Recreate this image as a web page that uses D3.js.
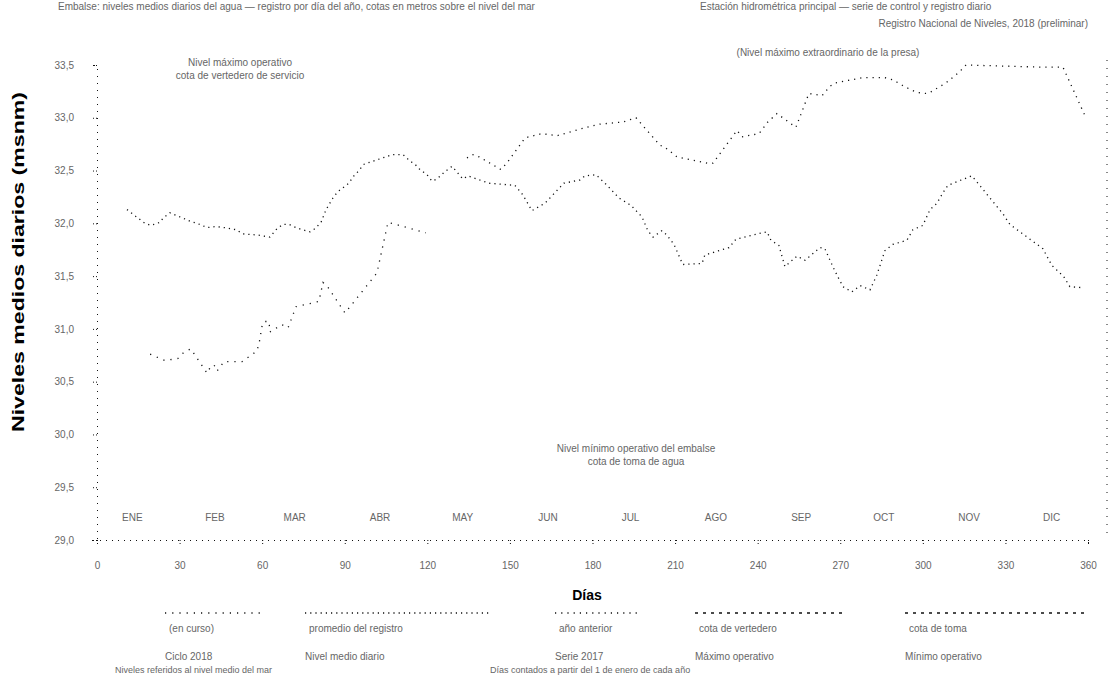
<!DOCTYPE html>
<html>
<head>
<meta charset="utf-8">
<script src="https://cdn.jsdelivr.net/npm/d3@7"></script>
<style>
  html, body { margin: 0; padding: 0; background: #fff; }
  svg text { font-family: "Liberation Sans", Arial, sans-serif; }
</style>
</head>
<body>
<svg id="chart" width="1110" height="677"></svg>
<script>
// Daily mean water level (msnm) by day of year
const serie2017 = [
  [134.4, 32.62], [136.6, 32.65], [138.8, 32.63], [146.7, 32.51], [148.9, 32.57],
  [155.5, 32.81], [161.6, 32.85], [167.1, 32.83], [176.5, 32.90], [179.4, 32.92],
  [182.7, 32.94], [191.1, 32.96], [195.8, 33.00], [204.5, 32.74], [206.3, 32.72],
  [210.7, 32.63], [221.9, 32.57], [223.8, 32.57], [232.5, 32.88], [234.3, 32.82],
  [240.5, 32.85], [243.7, 32.96], [247.0, 33.04], [253.9, 32.91], [258.6, 33.23],
  [263.4, 33.21], [266.3, 33.30], [268.1, 33.33], [278.2, 33.38], [281.5, 33.38],
  [286.2, 33.38], [289.1, 33.36], [292.4, 33.31], [295.3, 33.27], [297.9, 33.24],
  [301.5, 33.23], [302.6, 33.24], [308.4, 33.33], [313.1, 33.43], [315.7, 33.50],
  [342.5, 33.48], [350.9, 33.48], [358.9, 33.02]
];

const serieMedia = [
  [10.9, 32.13], [17.4, 32.00], [19.6, 31.98], [22.9, 32.01], [24.0, 32.05],
  [26.5, 32.10], [31.2, 32.05], [33.8, 32.02], [36.3, 32.00], [40.0, 31.96],
  [43.2, 31.97], [46.1, 31.96], [50.5, 31.94], [53.0, 31.90], [58.1, 31.89],
  [62.8, 31.87], [65.4, 31.95], [67.6, 31.99], [69.7, 31.99], [72.3, 31.96],
  [74.5, 31.94], [77.4, 31.92], [79.2, 31.95], [81.4, 32.01], [83.2, 32.13],
  [85.7, 32.24], [87.5, 32.30], [91.5, 32.38], [93.0, 32.44], [94.8, 32.49],
  [97.0, 32.56], [107.2, 32.65], [111.2, 32.65], [113.7, 32.59], [115.5, 32.56],
  [117.3, 32.51], [119.9, 32.46], [121.7, 32.40], [123.5, 32.42], [126.4, 32.49],
  [129.0, 32.54], [132.9, 32.42], [134.8, 32.45], [138.0, 32.42], [142.4, 32.38],
  [151.8, 32.36], [154.7, 32.27], [158.0, 32.12], [162.7, 32.19], [169.6, 32.38],
  [175.4, 32.41], [177.3, 32.45], [181.3, 32.46], [185.3, 32.36], [189.6, 32.24],
  [194.0, 32.17], [198.0, 32.06], [200.1, 31.93], [202.0, 31.87], [205.2, 31.93],
  [207.0, 31.89], [209.6, 31.80], [212.8, 31.61], [219.8, 31.62], [220.8, 31.70],
  [229.6, 31.77], [232.1, 31.85], [241.6, 31.91], [243.4, 31.92], [244.8, 31.84],
  [247.7, 31.79], [249.9, 31.59], [254.3, 31.69], [257.2, 31.65], [262.6, 31.77],
  [264.4, 31.76], [267.3, 31.59], [268.8, 31.51], [271.0, 31.40], [274.2, 31.35],
  [277.2, 31.41], [280.8, 31.37], [283.3, 31.51], [286.2, 31.74], [289.1, 31.80],
  [294.2, 31.84], [296.4, 31.94], [300.0, 31.98], [302.6, 32.13], [305.1, 32.19],
  [307.3, 32.29], [309.1, 32.36], [317.8, 32.45], [320.0, 32.38], [329.1, 32.09],
  [331.6, 31.99], [343.6, 31.76], [346.9, 31.60], [349.8, 31.53], [351.3, 31.49],
  [353.4, 31.40], [358.2, 31.39]
];

const serie2018 = [
  [19.3, 30.76], [24.7, 30.70], [29.4, 30.72], [31.6, 30.78], [34.1, 30.81],
  [40.0, 30.58], [41.0, 30.63], [42.5, 30.66], [43.6, 30.60], [46.1, 30.69],
  [52.7, 30.69], [58.1, 30.79], [59.0, 30.88], [59.9, 31.02], [60.7, 31.07],
  [62.5, 31.07], [62.8, 30.97], [67.2, 31.04], [69.4, 31.01], [72.3, 31.21],
  [80.6, 31.26], [82.1, 31.44], [83.5, 31.41], [90.1, 31.15], [101.7, 31.53],
  [105.7, 32.01], [119.5, 31.91]
];

const meses = ["ENE", "FEB", "MAR", "ABR", "MAY", "JUN", "JUL", "AGO", "SEP", "OCT", "NOV", "DIC"];
const mitadMes = [15, 45, 74, 105, 135, 166, 196, 227, 258, 288, 319, 349];
const diasTicks = [0, 30, 60, 90, 120, 150, 180, 210, 240, 270, 300, 330, 360];
const nivelTicks = [29.0, 29.5, 30.0, 30.5, 31.0, 31.5, 32.0, 32.5, 33.0, 33.5];

const leyenda = [
  { nombre: "Ciclo 2018", nota: "(en curso)", serie: "2018" },
  { nombre: "Nivel medio diario", nota: "promedio del registro", serie: "media" },
  { nombre: "Serie 2017", nota: "año anterior", serie: "2017" },
  { nombre: "Máximo operativo", nota: "cota de vertedero", serie: null },
  { nombre: "Mínimo operativo", nota: "cota de toma", serie: null }
];

const svg = d3.select("#chart");
const plot = { left: 97, right: 1107, top: 8, bottom: 540 };

const x = d3.scaleLinear().domain([0, 360]).range([plot.left, 1088]);
const y = d3.scaleLinear().domain([29.0, 33.5]).range([plot.bottom, 65]);

const ink = "#111";
const textInk = "#666";

// Right border (dotted)
svg.append("line").attr("x1", plot.right).attr("x2", plot.right)
  .attr("y1", 60).attr("y2", plot.bottom)
  .attr("stroke", ink).attr("stroke-width", 1).attr("stroke-dasharray", "1,7");

// Y axis
const yAxis = d3.axisLeft(y).tickValues(nivelTicks)
  .tickFormat(d => d3.format(".1f")(d).replace(".", ","))
  .tickSize(5).tickPadding(18);
const gy = svg.append("g").attr("transform", `translate(${plot.left},0)`).call(yAxis);
gy.select(".domain").attr("stroke", ink).attr("stroke-dasharray", "1,6");
gy.selectAll(".tick line").attr("stroke", ink).attr("stroke-dasharray", "1,2");
gy.selectAll(".tick text").attr("fill", textInk).attr("font-size", 10);

// X axis with days below
const xAxis = d3.axisBottom(x).tickValues(diasTicks).tickSize(4).tickPadding(18);
const gx = svg.append("g").attr("transform", `translate(0,${plot.bottom})`).call(xAxis);
gx.select(".domain").attr("stroke", ink).attr("stroke-dasharray", "1,5");
gx.selectAll(".tick line").attr("stroke", ink).attr("stroke-dasharray", "1,2");
gx.selectAll(".tick text").attr("fill", textInk).attr("font-size", 10);

// Month labels above the axis
svg.append("g").selectAll("text").data(meses).join("text")
  .attr("x", (d, i) => x(mitadMes[i]) - 6)
  .attr("y", plot.bottom - 19)
  .attr("text-anchor", "middle")
  .attr("font-size", 10).attr("fill", textInk)
  .text(d => d);

// Axis titles
svg.append("text")
  .attr("transform", "translate(24,262) rotate(-90)")
  .attr("text-anchor", "middle")
  .attr("font-size", 16).attr("font-weight", "bold").attr("fill", "#000")
  .attr("textLength", 340).attr("lengthAdjust", "spacingAndGlyphs")
  .text("Niveles medios diarios (msnm)");
svg.append("text")
  .attr("x", 587).attr("y", 600)
  .attr("text-anchor", "middle")
  .attr("font-size", 14).attr("font-weight", "bold").attr("fill", "#000")
  .text("Días");

// Series
const line = d3.line().x(d => x(d[0])).y(d => y(d[1])).curve(d3.curveLinear);
const series = { "2017": serie2017, "media": serieMedia, "2018": serie2018 };
const dash = { "2017": "1.2,5", "media": "1.2,4", "2018": "1.2,6" };
Object.entries(series).forEach(([k, data]) => {
  svg.append("path").datum(data)
    .attr("fill", "none").attr("stroke", ink).attr("stroke-width", 1.3)
    .attr("stroke-dasharray", dash[k])
    .attr("d", line);
});

// Text notes
const note = (tx, ty, lines, anchor = "middle", size = 10) => {
  const t = svg.append("text").attr("x", tx).attr("y", ty)
    .attr("text-anchor", anchor).attr("font-size", size).attr("fill", textInk);
  lines.forEach((s, i) => t.append("tspan").attr("x", tx).attr("dy", i ? 13 : 0).text(s));
};
note(58, 10, ["Embalse: niveles medios diarios del agua — registro por día del año, cotas en metros sobre el nivel del mar"], "start");
note(700, 10, ["Estación hidrométrica principal — serie de control y registro diario"], "start");
note(1088, 27, ["Registro Nacional de Niveles, 2018 (preliminar)"], "end");
note(240, 66, ["Nivel máximo operativo", "cota de vertedero de servicio"]);
note(828, 56, ["(Nivel máximo extraordinario de la presa)"]);
note(636, 452, ["Nivel mínimo operativo del embalse", "cota de toma de agua"]);

// Legend
const colX = [165, 305, 555, 695, 905];
const colW = [100, 185, 85, 150, 180];
leyenda.forEach((e, i) => {
  const g = svg.append("g");
  g.append("line").attr("x1", colX[i]).attr("x2", colX[i] + colW[i])
    .attr("y1", 613).attr("y2", 613)
    .attr("stroke", ink).attr("stroke-width", 1.3)
    .attr("stroke-dasharray", e.serie ? dash[e.serie] : "3,5");
  g.append("text").attr("x", colX[i] + 4).attr("y", 632)
    .attr("font-size", 10).attr("fill", textInk).text(e.nota);
  g.append("text").attr("x", colX[i]).attr("y", 660)
    .attr("font-size", 10).attr("fill", textInk).text(e.nombre);
});
note(115, 673, ["Niveles referidos al nivel medio del mar"], "start", 9);
note(490, 673, ["Días contados a partir del 1 de enero de cada año"], "start", 9);
</script>
</body>
</html>
